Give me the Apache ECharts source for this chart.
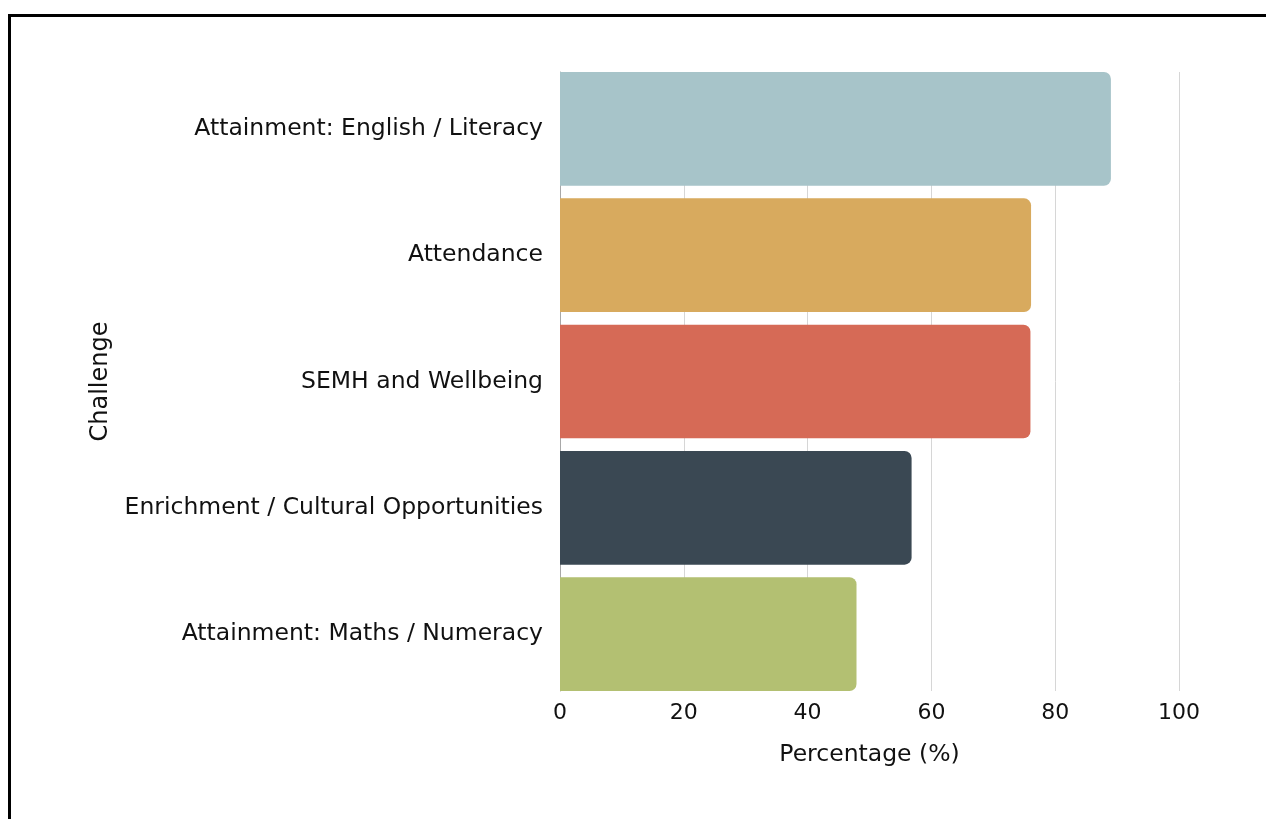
<!DOCTYPE html>
<html>
<head>
<meta charset="utf-8">
<script src="https://cdn.jsdelivr.net/npm/echarts@6/dist/echarts.min.js"></script>
<style>
  html, body { margin: 0; padding: 0; background: #ffffff; overflow: hidden; }
  #chart { position: absolute; left: 0; top: 0; width: 1266px; height: 819px; }
  #frame {
    position: absolute; left: 8px; top: 14px; width: 1400px; height: 900px;
    border-left: 3px solid #000; border-top: 3px solid #000; pointer-events: none;
  }
</style>
</head>
<body>
<div id="chart"></div>
<div id="frame"></div>
<script>
// Share of respondents naming each challenge
const categories = [
  'Attainment: English / Literacy',
  'Attendance',
  'SEMH and Wellbeing',
  'Enrichment / Cultural Opportunities',
  'Attainment: Maths / Numeracy'
];
const percentages = [89, 76.1, 76, 56.8, 47.9];
const barColors = ['#A7C4C9', '#D8AA5E', '#D66A56', '#3A4853', '#B3C072'];
const xTicks = [0, 20, 40, 60, 80, 100];

const FONT = 'DejaVu Sans';
const TEXT = '#111111';
const LEFT = 560, RIGHT = 87;

const chart = echarts.init(document.getElementById('chart'), null, { renderer: 'canvas' });

chart.setOption({
  backgroundColor: '#ffffff',
  animation: false,
  textStyle: { fontFamily: FONT },
  grid: [
    // bars
    { left: LEFT, right: RIGHT, top: 65.75, height: 631.5, containLabel: false },
    // gridlines and value axis
    { left: LEFT, right: RIGHT, top: 72, height: 619, containLabel: false }
  ],
  xAxis: [
    {
      gridIndex: 0, type: 'value', min: 0, max: 100, interval: 20,
      show: false
    },
    {
      gridIndex: 1, type: 'value', min: 0, max: 100, interval: 20,
      axisLine: { show: false },
      axisTick: { show: false },
      splitLine: { show: true, lineStyle: { color: '#d6d6d6', width: 1 } },
      axisLabel: {
        color: TEXT, fontSize: 22, fontFamily: FONT, margin: 11,
        formatter: v => (xTicks.indexOf(v) >= 0 ? String(v) : '')
      },
      name: 'Percentage (%)',
      nameLocation: 'middle',
      nameGap: 52,
      nameTextStyle: { color: TEXT, fontSize: 23.5, fontFamily: FONT }
    }
  ],
  yAxis: [
    {
      gridIndex: 0, type: 'category', data: categories, inverse: true,
      axisLine: { show: false },
      axisTick: { show: false },
      axisLabel: { color: TEXT, fontSize: 23.5, fontFamily: FONT, margin: 17 },
      name: 'Challenge',
      nameLocation: 'middle',
      nameRotate: 90,
      nameGap: 447,
      nameTextStyle: { color: TEXT, fontSize: 24, fontFamily: FONT }
    },
    {
      gridIndex: 1, type: 'category', data: categories, inverse: true,
      axisLine: { show: true, lineStyle: { color: '#a8a8a8', width: 1 } },
      axisTick: { show: false },
      axisLabel: { show: false },
      splitLine: { show: false }
    }
  ],
  series: [
    {
      type: 'bar',
      xAxisIndex: 0,
      yAxisIndex: 0,
      barCategoryGap: '10%',
      data: percentages.map((v, i) => ({
        value: v,
        itemStyle: { color: barColors[i], borderRadius: [0, 7, 7, 0] }
      }))
    }
  ]
});
</script>
</body>
</html>
